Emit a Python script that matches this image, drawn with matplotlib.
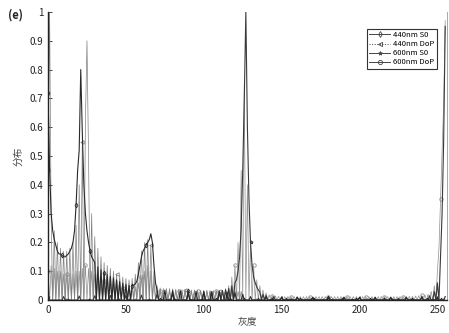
import numpy as np
import matplotlib
matplotlib.use("Agg")
import matplotlib.pyplot as plt

plt.rcParams['font.family'] = ['Noto Sans CJK SC', 'DejaVu Sans']

# Histogram bins (gray level) with non-empty counts; all other bins are empty (0).
s0_440_levels = [0, 1, 2, 3, 4, 5, 6, 7, 8, 9, 10, 11, 12, 13, 14, 15, 16, 17, 18, 19,
                 20, 21, 22, 23, 24, 25, 26, 27, 28, 29, 30, 32, 34, 36, 38, 40, 42, 44,
                 46, 48, 50, 52, 54, 55, 56, 57, 58, 59, 60, 61, 62, 63, 64, 65, 66, 67,
                 68, 69, 70, 75, 80, 85, 90, 95, 100, 105, 110, 115, 120, 125, 130, 140,
                 150, 160, 170, 180, 190, 200, 210, 220, 230, 240, 250, 255]
s0_440_values = [0.72, 0.45, 0.30, 0.24, 0.21, 0.19, 0.17, 0.16, 0.16, 0.155, 0.15, 0.15,
                 0.155, 0.16, 0.17, 0.18, 0.20, 0.24, 0.33, 0.45, 0.52, 0.80, 0.58, 0.40,
                 0.30, 0.24, 0.20, 0.17, 0.15, 0.14, 0.13, 0.115, 0.105, 0.095, 0.088,
                 0.082, 0.077, 0.07, 0.064, 0.058, 0.054, 0.051, 0.05, 0.052, 0.056, 0.065,
                 0.09, 0.12, 0.15, 0.17, 0.18, 0.19, 0.20, 0.21, 0.23, 0.20, 0.12, 0.06,
                 0.035, 0.034, 0.033, 0.032, 0.031, 0.030, 0.030, 0.029, 0.028, 0.027,
                 0.025, 0.02, 0.012, 0.01, 0.009, 0.009, 0.008, 0.008, 0.008, 0.008,
                 0.008, 0.008, 0.008, 0.009, 0.01, 0.012]

dop_440_levels = [0, 1, 2, 4, 6, 8, 10, 12, 14, 16, 18, 20, 22, 24, 25, 26, 28, 30, 32,
                  34, 36, 38, 40, 42, 44, 46, 48, 50, 52, 54, 56, 58, 60, 62, 64, 66, 68,
                  70, 72, 74, 76, 78, 80, 82, 84, 86, 88, 90, 92, 94, 96, 98, 100, 102,
                  104, 106, 108, 110, 112, 114, 116, 118, 120, 122, 124]
dop_440_values = [0.45, 1.0, 0.28, 0.24, 0.20, 0.18, 0.17, 0.17, 0.18, 0.20, 0.26, 0.40,
                  0.55, 0.62, 0.90, 0.50, 0.30, 0.22, 0.18, 0.15, 0.13, 0.12, 0.11, 0.10,
                  0.09, 0.085, 0.08, 0.075, 0.07, 0.075, 0.09, 0.13, 0.17, 0.20, 0.21,
                  0.19, 0.10, 0.05, 0.042, 0.04, 0.04, 0.04, 0.039, 0.038, 0.037, 0.036,
                  0.036, 0.035, 0.035, 0.035, 0.034, 0.034, 0.034, 0.034, 0.033, 0.033,
                  0.033, 0.033, 0.034, 0.034, 0.035, 0.035, 0.032, 0.03, 0.03]

s0_600_levels = [0, 10, 20, 30, 40, 50, 60, 70, 80, 90, 100, 105, 110, 112, 114, 116, 118,
                 120, 121, 122, 123, 124, 125, 126, 127, 128, 129, 130, 131, 132, 133, 134,
                 135, 136, 138, 140, 145, 150, 160, 170, 180, 190, 200, 210, 220, 230, 240,
                 245, 248, 250, 252, 253, 254, 255]
s0_600_values = [0.01, 0.012, 0.014, 0.015, 0.016, 0.016, 0.017, 0.02, 0.022, 0.024,
                 0.026, 0.028, 0.03, 0.033, 0.036, 0.04, 0.05, 0.06, 0.07, 0.10, 0.15,
                 0.25, 0.45, 0.70, 1.0, 0.60, 0.35, 0.20, 0.12, 0.08, 0.06, 0.045, 0.035,
                 0.028, 0.02, 0.016, 0.012, 0.01, 0.01, 0.009, 0.009, 0.009, 0.009, 0.009,
                 0.009, 0.01, 0.012, 0.015, 0.03, 0.06, 0.15, 0.30, 0.55, 0.95]

dop_600_levels = [0, 2, 4, 6, 8, 10, 12, 14, 16, 18, 20, 22, 24, 26, 28, 30, 32, 34, 36, 38,
                  40, 42, 44, 46, 48, 50, 52, 54, 56, 58, 60, 62, 64, 66, 68, 70, 72, 74,
                  76, 78, 80, 82, 84, 86, 88, 90, 92, 94, 96, 98, 100, 102, 104, 106, 108,
                  110, 112, 114, 116, 118, 120, 122, 124, 126, 128, 130, 132, 134, 136,
                  138, 140, 142, 144, 146, 148, 150, 152, 154, 156, 158, 160, 162, 164,
                  166, 168, 170, 172, 174, 176, 178, 180, 182, 184, 186, 188, 190, 192,
                  194, 196, 198, 200, 202, 204, 206, 208, 210, 212, 214, 216, 218, 220,
                  222, 224, 226, 228, 230, 232, 234, 236, 238, 240, 242, 244, 246, 248,
                  250, 251, 252, 253, 254, 255]
dop_600_values = [0.10, 0.12, 0.11, 0.10, 0.10, 0.09, 0.09, 0.09, 0.09, 0.10, 0.10, 0.11,
                  0.12, 0.11, 0.10, 0.09, 0.08, 0.07, 0.065, 0.06, 0.055, 0.05, 0.048,
                  0.045, 0.043, 0.04, 0.04, 0.04, 0.045, 0.06, 0.08, 0.10, 0.12, 0.10,
                  0.06, 0.035, 0.03, 0.03, 0.03, 0.03, 0.03, 0.03, 0.03, 0.03, 0.03, 0.03,
                  0.03, 0.03, 0.03, 0.03, 0.03, 0.03, 0.03, 0.03, 0.03, 0.032, 0.034,
                  0.04, 0.05, 0.08, 0.12, 0.20, 0.45, 0.75, 0.40, 0.20, 0.12, 0.07, 0.05,
                  0.035, 0.025, 0.018, 0.015, 0.014, 0.013, 0.013, 0.012, 0.012, 0.012,
                  0.012, 0.012, 0.012, 0.012, 0.012, 0.012, 0.012, 0.012, 0.012, 0.012,
                  0.012, 0.012, 0.012, 0.012, 0.012, 0.012, 0.012, 0.012, 0.012, 0.012,
                  0.012, 0.012, 0.012, 0.012, 0.012, 0.012, 0.012, 0.012, 0.012, 0.012,
                  0.012, 0.012, 0.012, 0.012, 0.012, 0.012, 0.012, 0.013, 0.013, 0.014,
                  0.015, 0.016, 0.018, 0.02, 0.03, 0.05, 0.10, 0.18, 0.35, 0.52, 0.68,
                  0.97]

series_labels = ['440nm S0', '440nm DoP', '600nm S0', '600nm DoP']
x_ticks = [0, 50, 100, 150, 200, 250]
y_ticks = [0, 0.1, 0.2, 0.3, 0.4, 0.5, 0.6, 0.7, 0.8, 0.9, 1]
y_ticklabels = ['0', '0.1', '0.2', '0.3', '0.4', '0.5', '0.6', '0.7', '0.8', '0.9', '1']


def full_histogram(levels, values):
    hist = np.zeros(256)
    hist[np.asarray(levels)] = values
    return hist


gray = np.arange(256)
fig = plt.figure(figsize=(4.49, 3.33), dpi=100)
ax = fig.add_axes([0.107, 0.099, 0.888, 0.865])

styles = [
    dict(color='#2a2a2a', ls='-', marker='d', lw=0.8, ms=2.5, mfc='none', mew=0.6, markevery=9),
    dict(color='#808080', ls='-', marker='<', lw=0.5, ms=2.5, mfc='none', mew=0.6, markevery=11),
    dict(color='#3a3a3a', ls='-', marker='*', lw=0.8, ms=2.5, mfc='none', mew=0.6, markevery=13),
    dict(color='#909090', ls='-', marker='o', lw=0.5, ms=2.5, mfc='none', mew=0.6, markevery=12),
]
legend_styles = [
    dict(ls='-', marker='d'), dict(ls=':', marker='<'),
    dict(ls='-', marker='*'), dict(ls='-', marker='o'),
]
data = [(s0_440_levels, s0_440_values), (dop_440_levels, dop_440_values),
        (s0_600_levels, s0_600_values), (dop_600_levels, dop_600_values)]

order = [3, 1, 2, 0]
lines = {}
for i in order:
    lv, vals = data[i]
    lines[i], = ax.plot(gray, full_histogram(lv, vals), **styles[i])

handles = [plt.Line2D([], [], color='#444444', lw=0.7, ms=3, mfc='none', mew=0.6,
                      **legend_styles[i]) for i in range(4)]
leg = ax.legend(handles, series_labels, loc='upper right', bbox_to_anchor=(0.985, 0.955),
                fontsize=5.5, frameon=True, fancybox=False, handlelength=2.8,
                borderpad=0.3, labelspacing=0.15, handletextpad=0.4, framealpha=1)
leg.get_frame().set_edgecolor('#333333')
leg.get_frame().set_linewidth(0.8)

ax.set_xlim(0, 256)
ax.set_ylim(0, 1)
ax.set_xticks(x_ticks)
ax.set_yticks(y_ticks)
ax.set_yticklabels(y_ticklabels)
ax.tick_params(direction='in', labelsize=7, length=3, width=0.6, colors='#222222')
for side in ['left', 'bottom']:
    ax.spines[side].set_linewidth(1.0)
    ax.spines[side].set_color('#222222')
ax.spines['right'].set_color('#999999')
ax.spines['right'].set_linewidth(0.6)
ax.spines['top'].set_visible(False)

ax.set_xlabel('灰度', fontsize=7, color='#444444', labelpad=2)
ax.set_ylabel('分布', fontsize=7, color='#444444', labelpad=4)

fig.text(0.018, 0.945, '(e)', fontsize=8, fontweight='bold', color='#222222')

fig.savefig('out.png', dpi=100)
